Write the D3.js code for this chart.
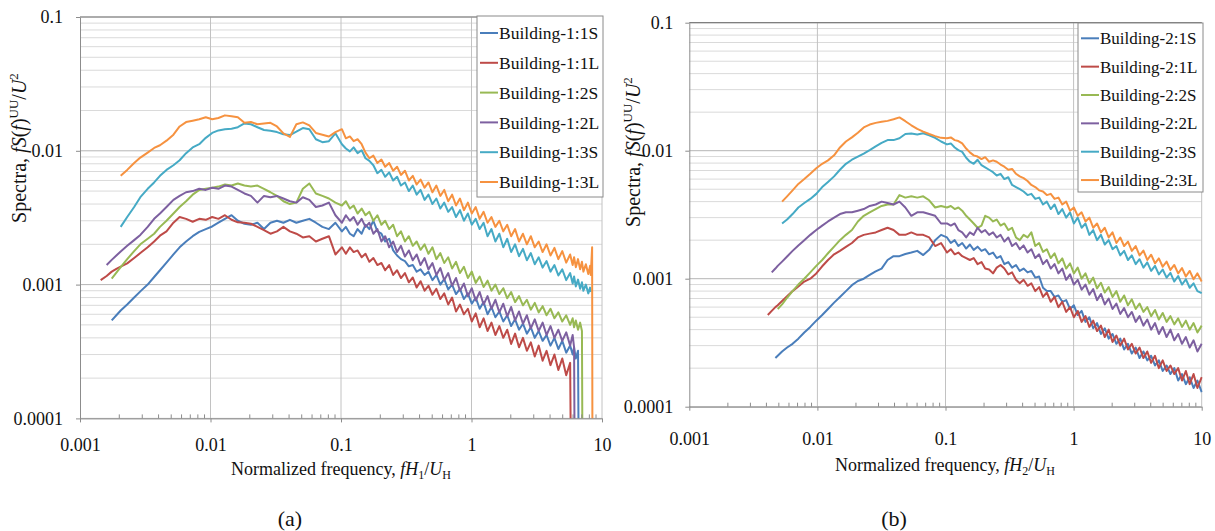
<!DOCTYPE html>
<html><head><meta charset="utf-8">
<script src="https://cdn.jsdelivr.net/npm/d3@7/dist/d3.min.js"></script>
<style>body{margin:0;background:#fff}svg{display:block}</style>
</head><body>
<svg id="c" width="1215" height="531"></svg>
<script>
// ---------------- DATA ----------------
const xTicks = [0.001, 0.01, 0.1, 1, 10];
const xTickLabels = ["0.001", "0.01", "0.1", "1", "10"];
const yTicks = [0.0001, 0.001, 0.01, 0.1];
const yTickLabels = ["0.0001", "0.001", "0.01", "0.1"];

const namesA = ["Building-1:1S", "Building-1:1L", "Building-1:2S", "Building-1:2L", "Building-1:3S", "Building-1:3L"];
const namesB = ["Building-2:1S", "Building-2:1L", "Building-2:2S", "Building-2:2L", "Building-2:3S", "Building-2:3L"];
const seriesColors = ["#4a7ebb", "#be4b48", "#98b954", "#7d60a0", "#46aac5", "#f69240"];

// normalized frequency fH1/UH (panel a)
const freqA = [
0.00144,0.0016,0.00175,0.0019,0.00205,0.0023,0.0026,0.0029,0.0033,0.0037,
0.0041,0.0046,0.0052,0.0058,0.0065,0.0073,0.0082,0.0092,0.0103,0.0115,
0.0129,0.0145,0.0162,0.0182,0.0204,0.0229,0.0257,0.0288,0.0323,0.0362,
0.0406,0.0455,0.051,0.0572,0.0642,0.072,0.0808,0.0906,0.1016,0.109,
0.117,0.125,0.134,0.144,0.154,0.165,0.177,0.19,0.204,0.218,
0.234,0.251,0.269,0.288,0.309,0.331,0.355,0.38,0.407,0.437,
0.468,0.502,0.538,0.577,0.618,0.663,0.71,0.761,0.816,0.875,
0.938,1.005,1.077,1.155,1.238,1.327,1.422,1.524,1.634,1.752,
1.878,2.013,2.158,2.313,2.479,2.657,2.848,3.053,3.272,3.508,
3.76,4.03,4.32,4.63,4.96,5.32,5.7,5.96,6.11,6.3,
6.55,6.8,7.02,7.2,7.52,7.85,8.1,8.2,8.4,8.5];

const a1S = [
null,null,0.00054,0.00059,0.00064,0.00071,0.0008,0.00089,0.001,0.00114,
0.00128,0.00146,0.00168,0.0019,0.0021,0.0023,0.00248,0.0026,0.00272,0.0029,
0.0031,0.0033,0.003,0.00285,0.0028,0.0029,0.0026,0.0029,0.003,0.0029,
0.00305,0.0029,0.003,0.0031,0.0029,0.0027,0.0026,0.0029,0.0025,0.0027,
0.0024,0.0023,0.0026,0.0024,0.0028,0.0026,0.003,0.0025,0.0024,0.0021,
0.0022,0.0018,0.00165,0.00155,0.0015,0.00137,0.0014,0.00125,0.0013,0.00118,
0.00125,0.00108,0.00118,0.001,0.0011,0.00092,0.001,0.00085,0.00093,0.00078,
0.00086,0.00072,0.0008,0.00066,0.00074,0.0006,0.00068,0.00057,0.00063,0.00053,
0.00059,0.00049,0.00055,0.00046,0.00051,0.00043,0.00048,0.0004,0.00045,0.00038,
0.00042,0.00035,0.0004,0.00033,0.00038,0.00031,0.00035,0.0003,0.00034,0.00028,
0.00032,1e-6];
const a1L = [
0.00108,0.00116,0.00125,0.00131,0.00136,0.00144,0.00158,0.00172,0.0019,0.0021,
0.00232,0.0025,0.0029,0.0032,0.0031,0.00295,0.0031,0.00305,0.0032,0.0031,
0.0033,0.00305,0.00292,0.0029,0.00285,0.0027,0.00255,0.0024,0.0025,0.0027,
0.0025,0.0024,0.00225,0.0023,0.0021,0.0022,0.0023,0.00168,0.0019,0.0017,
0.0019,0.00175,0.0018,0.0016,0.0017,0.00148,0.00158,0.0014,0.00145,0.00128,
0.0014,0.00118,0.00128,0.00112,0.00122,0.00104,0.00113,0.00095,0.00106,0.0009,
0.00098,0.00084,0.00093,0.00078,0.00086,0.00071,0.0008,0.00063,0.00071,0.0006,
0.00066,0.00053,0.00061,0.00048,0.00056,0.00045,0.00052,0.00042,0.00049,0.0004,
0.00046,0.00036,0.00043,0.00034,0.0004,0.00032,0.00037,0.00029,0.00035,0.00027,
0.00032,0.00025,0.0003,0.00023,0.00028,0.00021,0.00026,1e-6];
const a2S = [
null,null,0.00111,0.00123,0.00135,0.00155,0.00178,0.002,0.0022,0.0024,
0.0027,0.003,0.0034,0.0038,0.0042,0.0047,0.0051,0.0052,0.0053,0.0054,
0.0056,0.0055,0.0057,0.0055,0.0054,0.0055,0.0052,0.0049,0.0046,0.0042,
0.004,0.0041,0.0052,0.0057,0.0048,0.0046,0.0044,0.0041,0.0039,0.0042,
0.0037,0.0039,0.0034,0.0037,0.0033,0.0035,0.003,0.0033,0.0028,0.003,
0.0026,0.0028,0.0023,0.0025,0.0021,0.0023,0.00195,0.0021,0.00182,0.002,
0.0017,0.0019,0.00155,0.00172,0.00145,0.0016,0.00132,0.00148,0.00122,0.00136,
0.00112,0.00125,0.00103,0.00115,0.00096,0.00107,0.0009,0.001,0.00085,0.00094,
0.00079,0.00088,0.00074,0.00082,0.0007,0.00077,0.00065,0.00073,0.00062,0.00069,
0.00059,0.00066,0.00056,0.00062,0.00053,0.00059,0.0005,0.00056,0.00048,0.00054,
0.00046,0.00052,0.00045,1e-6];
const a2L = [
null,0.0014,0.00153,0.00165,0.00177,0.00195,0.00215,0.00235,0.0027,0.0031,
0.0034,0.0038,0.0043,0.0046,0.0049,0.005,0.0052,0.0051,0.0053,0.0052,
0.0055,0.0054,0.0051,0.0048,0.0046,0.0041,0.0046,0.0045,0.0046,0.0044,
0.0042,0.0041,0.0045,0.0043,0.0038,0.0039,0.0041,0.0033,0.0029,0.0033,
0.003,0.0032,0.0028,0.0031,0.0027,0.0029,0.0024,0.0026,0.0021,0.0023,
0.0019,0.0021,0.00175,0.00195,0.00162,0.0018,0.00152,0.00168,0.0014,0.00158,
0.0013,0.00145,0.00118,0.00133,0.00108,0.00122,0.00098,0.00112,0.0009,0.00102,
0.00082,0.00094,0.00076,0.00088,0.00071,0.00082,0.00066,0.00077,0.00062,0.00072,
0.00058,0.00068,0.00054,0.00063,0.00051,0.00059,0.00047,0.00055,0.00045,0.00052,
0.00042,0.00049,0.0004,0.00046,0.00038,0.00044,0.00035,0.00042,0.00034,1e-6];
const a3S = [
null,null,null,null,0.0027,0.0032,0.0038,0.0045,0.0052,0.0058,
0.0065,0.0072,0.0078,0.0085,0.0096,0.0106,0.0112,0.0125,0.0136,0.0142,
0.0145,0.0146,0.015,0.016,0.0158,0.015,0.0143,0.0141,0.0138,0.0133,
0.0131,0.0139,0.0148,0.0145,0.0122,0.0116,0.0118,0.0135,0.0112,0.0104,
0.0099,0.0106,0.0096,0.0101,0.0088,0.0084,0.0078,0.0068,0.0072,0.0064,
0.0069,0.006,0.0064,0.0055,0.0058,0.005,0.0055,0.0047,0.0051,0.0043,
0.0047,0.004,0.0044,0.0037,0.0041,0.0035,0.0038,0.0032,0.0036,0.003,
0.0034,0.0028,0.0031,0.0026,0.0029,0.0023,0.0026,0.0021,0.0024,0.0019,
0.0022,0.00175,0.002,0.00163,0.00185,0.00152,0.00172,0.00142,0.0016,0.00134,
0.0015,0.00125,0.0014,0.00117,0.0013,0.00108,0.00122,0.00102,0.00115,0.00097,
0.00109,0.00093,0.00104,0.0009,0.001,0.00086,0.00095,0.00088];
const a3L = [
null,null,null,null,0.0065,0.0072,0.0081,0.0089,0.0097,0.0105,
0.011,0.0119,0.0132,0.0152,0.0164,0.0168,0.0172,0.0178,0.0172,0.0176,
0.0184,0.0181,0.0178,0.0162,0.0164,0.0158,0.016,0.0162,0.0152,0.0135,
0.0127,0.0158,0.0163,0.0155,0.0136,0.0132,0.0128,0.0138,0.0145,0.0124,
0.0128,0.0118,0.0122,0.0112,0.0097,0.0088,0.0092,0.0081,0.0086,0.0076,
0.0081,0.0071,0.0076,0.0066,0.0071,0.006,0.0065,0.0056,0.0061,0.0053,
0.0058,0.0049,0.0055,0.0046,0.0051,0.0042,0.0047,0.0039,0.0044,0.0036,
0.0041,0.0034,0.0038,0.0031,0.0035,0.0029,0.0032,0.0027,0.003,0.0025,
0.0028,0.0023,0.0026,0.0021,0.0024,0.002,0.0023,0.0019,0.0021,0.00175,
0.002,0.00165,0.00188,0.00155,0.00178,0.00146,0.00168,0.0014,0.0016,0.00135,
0.00155,0.0013,0.00148,0.00125,0.00142,0.0012,0.00138,0.00118,0.0019,1e-6];

// normalized frequency fH2/UH (panel b)
const freqB = [
0.0041,0.0044,0.0047,0.0049,0.0053,0.0058,0.0064,0.0071,0.0079,0.0088,
0.0098,0.0109,0.0121,0.0135,0.015,0.0167,0.0186,0.0207,0.023,0.0256,
0.0285,0.0317,0.0353,0.0393,0.0437,0.0486,0.0541,0.0602,0.067,0.0746,
0.083,0.0923,0.1027,0.11,0.118,0.126,0.135,0.145,0.155,0.166,
0.178,0.191,0.204,0.219,0.235,0.251,0.269,0.288,0.309,0.331,
0.355,0.38,0.407,0.437,0.468,0.502,0.538,0.577,0.618,0.663,
0.71,0.761,0.816,0.875,0.938,1.005,1.077,1.155,1.238,1.327,
1.422,1.524,1.634,1.752,1.878,2.013,2.158,2.313,2.479,2.657,
2.848,3.053,3.272,3.508,3.76,4.03,4.32,4.63,4.96,5.32,
5.7,6.11,6.55,7.02,7.52,8.06,8.64,9.26,10];

const b1S = [
null,null,0.00024,0.00025,0.00027,0.00029,0.00031,0.00034,0.00038,0.00042,
0.00047,0.00052,0.00058,0.00065,0.00072,0.0008,0.00089,0.00096,0.001,0.00107,
0.00114,0.0012,0.0014,0.0015,0.0015,0.00156,0.0016,0.00165,0.00153,0.00168,
0.002,0.0022,0.0021,0.0019,0.002,0.0018,0.0019,0.00172,0.00185,0.00168,
0.00178,0.00165,0.0017,0.00155,0.0016,0.00145,0.0015,0.0013,0.00135,0.00122,
0.00128,0.00115,0.0012,0.00112,0.00115,0.00102,0.00104,0.00085,0.0008,0.0008,
0.00072,0.00074,0.00066,0.00068,0.00058,0.00062,0.00052,0.00056,0.00046,0.0005,
0.00041,0.00045,0.00037,0.00041,0.00034,0.00037,0.00031,0.00034,0.00028,0.00031,
0.00026,0.00029,0.00024,0.00027,0.00023,0.00025,0.00021,0.00023,0.00019,0.00021,
0.00018,0.0002,0.00016,0.00018,0.00015,0.00017,0.00014,0.00016,0.00013];
const b1L = [
0.00052,0.00056,0.0006,0.00062,0.00067,0.00073,0.0008,0.00087,0.00095,0.001,
0.0011,0.00125,0.0014,0.00155,0.00165,0.00177,0.0019,0.0021,0.0022,0.00225,
0.0023,0.0024,0.0025,0.0024,0.0022,0.0022,0.0023,0.0022,0.0022,0.0021,
0.0018,0.0019,0.0016,0.0017,0.00155,0.0016,0.0015,0.00145,0.0014,0.00145,
0.0013,0.00135,0.0012,0.00118,0.0011,0.00122,0.00128,0.0012,0.00108,0.00112,
0.00098,0.00092,0.00098,0.00088,0.00092,0.0008,0.00086,0.00072,0.00078,0.00066,
0.00072,0.0006,0.00066,0.00055,0.0006,0.0005,0.00056,0.00046,0.00051,0.00042,
0.00047,0.00039,0.00043,0.00035,0.0004,0.00032,0.00036,0.0003,0.00034,0.00028,
0.00031,0.00026,0.00029,0.00024,0.00027,0.00022,0.00025,0.0002,0.00023,0.00019,
0.00021,0.00018,0.0002,0.00016,0.00019,0.00015,0.00018,0.00014,0.00017];
const b2S = [
null,null,null,0.00058,0.00063,0.00071,0.0008,0.0009,0.001,0.00112,
0.00126,0.0014,0.00158,0.00178,0.002,0.0022,0.0024,0.0028,0.0031,0.0033,
0.0035,0.0037,0.0038,0.0038,0.0045,0.0043,0.0044,0.0043,0.0044,0.0041,
0.0036,0.0037,0.0036,0.0037,0.0035,0.0036,0.0034,0.0031,0.0029,0.0027,
0.0025,0.0026,0.0031,0.003,0.0028,0.0029,0.0026,0.0027,0.0024,0.0025,
0.0021,0.002,0.0022,0.0021,0.0023,0.0018,0.0019,0.00162,0.0017,0.00145,
0.00158,0.00132,0.00144,0.0012,0.00132,0.0011,0.00122,0.001,0.0011,0.00092,
0.00102,0.00084,0.00093,0.00078,0.00086,0.00072,0.0008,0.00066,0.00074,0.00062,
0.00069,0.00058,0.00064,0.00055,0.0006,0.00051,0.00057,0.00048,0.00054,0.00046,
0.00051,0.00044,0.00049,0.00042,0.00047,0.0004,0.00045,0.00038,0.00043];
const b2L = [
null,0.00112,0.0012,0.00126,0.00136,0.00149,0.00165,0.00182,0.002,0.0022,
0.0024,0.0026,0.0028,0.003,0.0032,0.0033,0.0033,0.0034,0.0035,0.0037,
0.0038,0.004,0.0039,0.0038,0.004,0.0036,0.0031,0.0033,0.0033,0.0032,
0.0031,0.0027,0.0027,0.0026,0.0027,0.0024,0.0023,0.0021,0.0023,0.0022,
0.0025,0.0023,0.0024,0.0022,0.0023,0.0021,0.0022,0.00195,0.0021,0.0018,
0.0019,0.0017,0.00182,0.0016,0.0017,0.00145,0.00155,0.0013,0.0014,0.0012,
0.0013,0.0011,0.0012,0.00098,0.00108,0.0009,0.00098,0.00082,0.0009,0.00075,
0.00083,0.00068,0.00076,0.00063,0.0007,0.00058,0.00064,0.00053,0.00059,0.0005,
0.00055,0.00046,0.00051,0.00043,0.00048,0.0004,0.00045,0.00037,0.00042,0.00035,
0.0004,0.00033,0.00037,0.00031,0.00035,0.00029,0.00033,0.00027,0.00031];
const b3S = [
null,null,null,null,0.0027,0.0029,0.0032,0.0036,0.0039,0.0042,
0.0046,0.0052,0.0057,0.0063,0.0071,0.0079,0.0085,0.009,0.0095,0.0101,
0.0108,0.0115,0.0121,0.0121,0.0125,0.0135,0.0136,0.0134,0.0137,0.0132,
0.0126,0.0118,0.0112,0.0114,0.0106,0.0101,0.0098,0.0088,0.0082,0.0079,
0.0085,0.0077,0.0074,0.0071,0.0068,0.0064,0.0066,0.006,0.0062,0.0054,
0.0052,0.005,0.0048,0.0045,0.0046,0.0042,0.0043,0.0038,0.004,0.0035,
0.0038,0.0032,0.0035,0.003,0.0033,0.0027,0.003,0.0025,0.0027,0.0022,
0.0024,0.002,0.0022,0.00185,0.002,0.0017,0.0018,0.00152,0.00165,0.0014,
0.00152,0.0013,0.00142,0.00122,0.00134,0.00115,0.00126,0.00108,0.00118,0.00102,
0.00111,0.00095,0.00105,0.0009,0.00099,0.00085,0.00092,0.0008,0.00077];
const b3L = [
null,null,null,null,0.004,0.0044,0.0049,0.0055,0.006,0.0066,
0.0073,0.0079,0.0084,0.0092,0.0106,0.0118,0.0127,0.0138,0.0152,0.016,
0.0165,0.0168,0.0171,0.0176,0.0182,0.017,0.0158,0.0148,0.0141,0.0135,
0.013,0.0126,0.0125,0.0127,0.0121,0.0119,0.0114,0.0104,0.0097,0.0092,
0.009,0.0086,0.0089,0.0082,0.0084,0.0082,0.0078,0.0075,0.0071,0.0072,
0.0066,0.0063,0.0061,0.0058,0.0054,0.0052,0.0049,0.0048,0.0045,0.0046,
0.0042,0.0043,0.0038,0.004,0.0034,0.0036,0.0031,0.0033,0.0028,0.003,
0.0025,0.0027,0.0023,0.0025,0.0021,0.0023,0.0019,0.0021,0.0018,0.00195,
0.00165,0.0018,0.00152,0.00166,0.0014,0.00154,0.00132,0.00144,0.00124,0.00136,
0.00117,0.00128,0.0011,0.00121,0.00104,0.00115,0.00099,0.0011,0.00095];

// ---------------- DRAW ----------------
const FONT = "'Liberation Serif','Times New Roman',Times,serif";
const svg = d3.select('#c').style('font-family', FONT);

function panel(o) {
  const x = d3.scaleLog().domain([0.001, 10]).range([o.x0, o.x1]);
  const y = d3.scaleLog().domain([0.0001, 0.1]).range([o.y1, o.y0]);
  const g = svg.append('g');

  // horizontal gridlines (minor + major)
  const yt = y.ticks();
  g.selectAll('line.hg').data(yt).join('line')
    .attr('x1', o.x0).attr('x2', o.x1)
    .attr('y1', d => y(d)).attr('y2', d => y(d))
    .attr('stroke', d => yTicks.includes(d) ? '#b5b5b5' : '#dadada')
    .attr('stroke-width', 1);
  // vertical gridlines at decades
  g.selectAll('line.vg').data(xTicks.slice(1)).join('line')
    .attr('x1', d => x(d)).attr('x2', d => x(d))
    .attr('y1', o.y0).attr('y2', o.y1)
    .attr('stroke', '#c2c2c2').attr('stroke-width', 1);
  // top border
  g.append('line').attr('x1', o.x0).attr('x2', o.x1).attr('y1', o.y0).attr('y2', o.y0)
    .attr('stroke', '#7f7f7f').attr('stroke-width', 1.2);

  // series
  const clipId = 'clip' + o.id;
  svg.append('clipPath').attr('id', clipId).append('rect')
    .attr('x', o.x0).attr('y', o.y0 - 2).attr('width', o.x1 - o.x0 + 1).attr('height', o.y1 - o.y0 + 2);
  const line = d3.line().defined(d => d.v != null)
    .x(d => x(d.f)).y(d => y(d.v)).curve(d3.curveLinear);
  const gs = g.append('g').attr('clip-path', `url(#${clipId})`);
  o.series.forEach((vals, i) => {
    const pts = vals.map((v, k) => ({ f: o.freq[k], v }));
    gs.append('path').datum(pts)
      .attr('d', line).attr('fill', 'none')
      .attr('stroke', seriesColors[i]).attr('stroke-width', 2)
      .attr('stroke-linejoin', 'round');
  });

  // axes
  const xa = d3.axisBottom(x).tickValues(xTicks).tickFormat((d, i) => xTickLabels[i])
    .tickSize(4).tickSizeOuter(0);
  const gx = g.append('g').attr('transform', `translate(0,${o.y1})`).call(xa);
  gx.select('.domain').attr('stroke', '#8c8c8c');
  gx.selectAll('.tick line').attr('stroke', '#8c8c8c');
  gx.selectAll('text').attr('y', o.xLabOff).attr('dy', 0)
    .style('font-family', FONT).style('font-size', '18px').attr('fill', '#111');
  // minor x ticks (inside)
  g.selectAll('line.mx').data(x.ticks().filter(d => !xTicks.includes(d))).join('line')
    .attr('x1', d => x(d)).attr('x2', d => x(d))
    .attr('y1', o.y1).attr('y2', o.y1 - 4)
    .attr('stroke', '#8c8c8c');

  const ya = d3.axisLeft(y).tickValues(yTicks).tickFormat((d, i) => yTickLabels[i])
    .tickSize(4).tickSizeOuter(0);
  const gy = g.append('g').attr('transform', `translate(${o.x0},0)`).call(ya);
  gy.select('.domain').attr('stroke', '#8c8c8c');
  gy.selectAll('.tick line').attr('stroke', '#8c8c8c');
  gy.selectAll('text').attr('x', -o.yLabOff).attr('dy', '0.33em')
    .style('font-family', FONT).style('font-size', '18px').attr('fill', '#111');

  // legend
  const L = o.legend;
  const lg = svg.append('g');
  lg.append('rect').attr('x', L.x).attr('y', L.y).attr('width', L.w).attr('height', L.h)
    .attr('fill', '#fff').attr('stroke', '#8a8a8a').attr('stroke-width', 1);
  o.names.forEach((n, i) => {
    const cy = L.first + i * L.step;
    lg.append('line').attr('x1', L.x + 3).attr('x2', L.x + 21)
      .attr('y1', cy).attr('y2', cy).attr('stroke', seriesColors[i]).attr('stroke-width', 2);
    lg.append('text').attr('x', L.x + 22).attr('y', cy).attr('dy', '0.35em')
      .style('font-size', L.fs + 'px').attr('fill', '#111').text(n);
  });

  // y title
  const yt2 = svg.append('text')
    .attr('transform', `translate(${o.yTitle[0]},${o.yTitle[1]}) rotate(-90)`)
    .attr('text-anchor', 'middle').style('font-size', '20px').attr('fill', '#111');
  yt2.append('tspan').text('Spectra, ');
  yt2.append('tspan').style('font-style', 'italic').text('fS');
  yt2.append('tspan').text('(');
  yt2.append('tspan').style('font-style', 'italic').text('f');
  yt2.append('tspan').text(')');
  yt2.append('tspan').attr('dy', -8).style('font-size', '13px').text('UU');
  yt2.append('tspan').attr('dy', 8).text('/');
  yt2.append('tspan').style('font-style', 'italic').text('U');
  yt2.append('tspan').attr('dy', -8).style('font-size', '13px').text('2');

  // x title
  const xt = svg.append('text').attr('x', o.xTitle[0]).attr('y', o.xTitle[1])
    .attr('text-anchor', 'middle').style('font-size', '18px').attr('fill', '#111');
  xt.append('tspan').text('Normalized frequency, ');
  xt.append('tspan').style('font-style', 'italic').text('fH');
  xt.append('tspan').attr('dy', 4).style('font-size', '12px').text(o.sub);
  xt.append('tspan').attr('dy', -4).text('/');
  xt.append('tspan').style('font-style', 'italic').text('U');
  xt.append('tspan').attr('dy', 4).style('font-size', '12px').text('H');

  svg.append('text').attr('x', o.cap[0]).attr('y', o.cap[1]).attr('text-anchor', 'middle')
    .style('font-size', '22px').attr('fill', '#111').text(o.capText);
}

panel({
  id: 'a', x0: 80, x1: 602, y0: 17, y1: 418.4, freq: freqA,
  series: [a1S, a1L, a2S, a2L, a3S, a3L], names: namesA,
  xLabOff: 33, yLabOff: 17,
  legend: { x: 477, y: 16, w: 126, h: 181, first: 33, step: 29.8, fs: 17.5 },
  yTitle: [26, 148], xTitle: [341, 475], sub: '1', cap: [290, 526], capText: '(a)'
});
panel({
  id: 'b', x0: 689.3, x1: 1201.7, y0: 22.7, y1: 406.7, freq: freqB,
  series: [b1S, b1L, b2S, b2L, b3S, b3L], names: namesB,
  xLabOff: 38, yLabOff: 16,
  legend: { x: 1078, y: 23, w: 125, h: 169, first: 38.3, step: 28.35, fs: 17 },
  yTitle: [640, 152], xTitle: [945, 471], sub: '2', cap: [894, 526], capText: '(b)'
});
</script>
</body></html>
